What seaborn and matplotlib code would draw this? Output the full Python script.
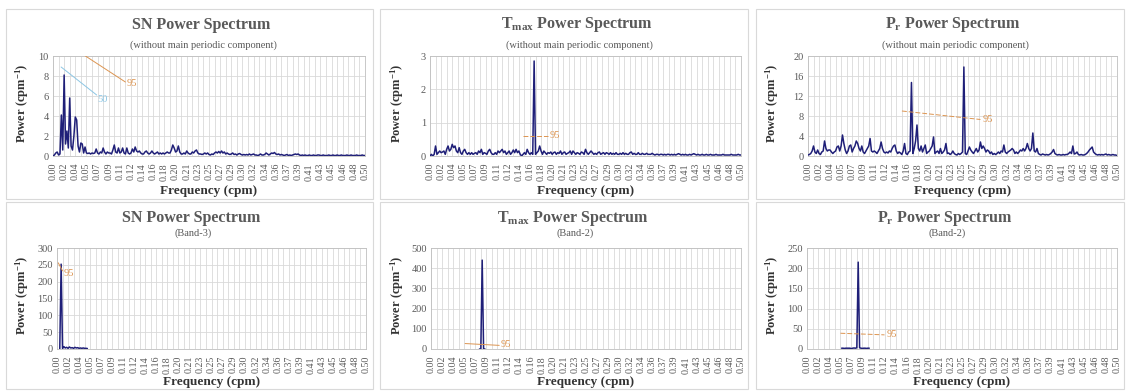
import numpy as np
import matplotlib
matplotlib.use("Agg")
import matplotlib.pyplot as plt
from matplotlib.patches import Rectangle
import seaborn as sns

# ---------------- data ----------------
FREQ_STEP = 1 / 448  # spacing of the frequency categories (cpm)

tick_labels = ["0.00", "0.02", "0.04", "0.05", "0.07", "0.09", "0.11", "0.12", "0.14",
               "0.16", "0.18", "0.20", "0.21", "0.23", "0.25", "0.27", "0.29", "0.30",
               "0.32", "0.34", "0.36", "0.37", "0.39", "0.41", "0.43", "0.45", "0.46",
               "0.48", "0.50"]

sn_top = [
    0, 0.1, 0.3, 0.4, 0.1, 0.2, 4.1, 0.6,
    8.1, 1.2, 2.5, 0.8, 5.8, 1.0, 0.6, 2.0,
    3.9, 3.6, 1.0, 0.4, 1.3, 1.2, 0.3, 0.9,
    0.3, 0.25, 0.3, 0.2, 0.3, 0.25, 0.3, 0.7,
    0.3, 0.2, 0.4, 0.3, 0.8, 0.4, 0.2, 0.4,
    0.3, 0.3, 0.2, 0.6, 1.1, 0.4, 0.3, 0.8,
    0.3, 0.4, 0.8, 0.3, 0.2, 0.8, 0.3, 0.2,
    0.3, 0.7, 0.4, 0.9, 0.5, 0.4, 0.5, 0.3,
    0.2, 0.2, 0.4, 0.5, 0.3, 0.2, 0.3, 0.5,
    0.3, 0.2, 0.3, 0.4, 0.2, 0.3, 0.2, 0.3,
    0.2, 0.3, 0.4, 0.3, 0.3, 0.6, 1.1, 0.8,
    0.4, 0.5, 1.0, 0.4, 0.2, 0.2, 0.3, 0.2,
    0.5, 0.3, 0.2, 0.2, 0.4, 0.3, 0.5, 0.6,
    0.3, 0.2, 0.2, 0.15, 0.2, 0.3, 0.2, 0.3,
    0.15, 0.1, 0.2, 0.15, 0.3, 0.4, 0.3, 0.45,
    0.3, 0.5, 0.3, 0.4, 0.2, 0.3, 0.2, 0.15,
    0.2, 0.3, 0.15, 0.2, 0.1, 0.2, 0.25, 0.15,
    0.1, 0.15, 0.1, 0.15, 0.1, 0.2, 0.1, 0.15,
    0.2, 0.1, 0.1, 0.05, 0.1, 0.2, 0.1, 0.1,
    0.15, 0.3, 0.2, 0.1, 0.2, 0.3, 0.25, 0.35,
    0.2, 0.15, 0.2, 0.1, 0.15, 0.1, 0.05, 0.1,
    0.15, 0.05, 0.1, 0.05, 0.1, 0.15, 0.2, 0.15,
    0.2, 0.1, 0.05, 0.1, 0.05, 0.1, 0.05, 0.05,
    0.1, 0.05, 0.05, 0.1, 0.05, 0.05, 0.1, 0.1,
    0.05, 0.05, 0.1, 0.05, 0.05, 0.05, 0.1, 0.05,
    0.05, 0.1, 0.05, 0.05, 0.1, 0.05, 0.05, 0.1,
    0.05, 0.05, 0.05, 0.1, 0.05, 0.05, 0.1, 0.05,
    0.05, 0.05, 0.1, 0.05, 0.05, 0.05, 0.1, 0.05,
    0.05]

tmax_top = [
    0.0, 0.05, 0.0, 0.05, 0.3, 0.05, 0.1, 0.15,
    0.1, 0.12, 0.15, 0.05, 0.2, 0.3, 0.15, 0.2,
    0.35, 0.25, 0.3, 0.15, 0.1, 0.25, 0.1, 0.05,
    0.15, 0.2, 0.1, 0.05, 0.1, 0.05, 0.1, 0.05,
    0.08, 0.1, 0.05, 0.15, 0.1, 0.2, 0.05, 0.1,
    0.08, 0.05, 0.15, 0.2, 0.1, 0.05, 0.05, 0.1,
    0.05, 0.15, 0.1, 0.15, 0.2, 0.1, 0.15, 0.05,
    0.1, 0.15, 0.05, 0.1, 0.18, 0.1, 0.2, 0.1,
    0.15, 0.05, 0.0, 0.05, 0.1, 0.05, 0.2, 0.1,
    0.05, 0.1, 0.05, 2.85, 0.05, 0.1, 0.15, 0.3,
    0.15, 0.05, 0.15, 0.1, 0.05, 0.1, 0.08, 0.12,
    0.05, 0.1, 0.12, 0.05, 0.1, 0.08, 0.15, 0.05,
    0.1, 0.12, 0.05, 0.08, 0.1, 0.15, 0.05, 0.15,
    0.1, 0.05, 0.1, 0.08, 0.05, 0.12, 0.1, 0.05,
    0.2, 0.1, 0.05, 0.1, 0.15, 0.1, 0.05, 0.08,
    0.05, 0.1, 0.12, 0.05, 0.08, 0.1, 0.05, 0.1,
    0.08, 0.05, 0.1, 0.05, 0.08, 0.05, 0.1, 0.05,
    0.05, 0.08, 0.05, 0.1, 0.05, 0.08, 0.05, 0.05,
    0.1, 0.12, 0.05, 0.08, 0.05, 0.05, 0.1, 0.05,
    0.05, 0.08, 0.05, 0.05, 0.08, 0.05, 0.05, 0.05,
    0.08, 0.05, 0.03, 0.05, 0.05, 0.03, 0.05, 0.05,
    0.03, 0.05, 0.03, 0.05, 0.05, 0.03, 0.05, 0.03,
    0.05, 0.03, 0.05, 0.07, 0.05, 0.03, 0.05, 0.03,
    0.05, 0.03, 0.03, 0.05, 0.03, 0.05, 0.07, 0.05,
    0.03, 0.05, 0.03, 0.03, 0.05, 0.03, 0.03, 0.05,
    0.03, 0.03, 0.05, 0.03, 0.03, 0.03, 0.05, 0.03,
    0.03, 0.03, 0.03, 0.05, 0.03, 0.03, 0.03, 0.03,
    0.03, 0.05, 0.03, 0.03, 0.03, 0.03, 0.05, 0.03,
    0.03]

pr_top = [
    0.2, 0.3, 0.5, 1.0, 2.0, 0.8, 0.5, 1.2,
    0.5, 0.3, 0.8, 1.0, 3.0, 1.5, 1.0, 1.2,
    1.2, 0.8, 0.5, 0.8, 1.0, 1.8, 2.0, 1.0,
    2.0, 4.2, 2.5, 1.2, 0.5, 1.0, 2.0, 2.2,
    0.8, 1.5, 2.0, 3.0, 2.5, 1.5, 1.0, 2.0,
    0.8, 0.5, 1.0, 1.5, 2.0, 3.5, 1.0, 0.8,
    1.0, 0.8, 0.5, 1.0, 1.5, 2.8, 1.5, 0.8,
    0.6, 0.8, 0.6, 1.0, 0.8, 1.5, 2.0, 2.2,
    1.0, 0.5, 0.8, 0.6, 0.3, 1.0, 2.5, 0.5,
    0.3, 0.8, 1.0, 14.7, 0.5, 1.5, 3.0, 6.2,
    1.5, 1.0, 2.0, 0.8, 1.5, 2.2, 0.5, 0.8,
    1.0, 1.5, 2.0, 3.8, 0.5, 0.8, 1.0, 0.5,
    1.5, 0.5, 0.8, 1.2, 2.5, 0.5, 0.6, 0.3,
    0.5, 1.0, 0.5, 0.3, 0.2, 0.5, 0.3, 0.5,
    0.8, 17.8, 0.5, 0.3, 1.0, 1.8, 1.2, 0.8,
    0.5, 1.0, 1.5, 0.8, 1.2, 2.8, 1.5, 2.0,
    1.5, 0.8, 1.2, 1.0, 0.5, 0.8, 0.3, 0.5,
    0.3, 0.5, 0.8, 0.5, 1.0, 0.8, 2.2, 0.8,
    0.5, 0.8, 1.0, 1.2, 1.5, 1.2, 0.5, 0.8,
    0.5, 0.8, 1.2, 1.0, 1.5, 1.0, 1.5, 2.5,
    1.5, 1.0, 1.5, 4.6, 1.0, 0.8, 1.5, 0.5,
    0.3, 0.2, 0.4, 0.3, 0.2, 0.3, 0.2, 0.3,
    0.5, 0.8, 1.3, 0.5, 0.3, 0.2, 0.3, 0.2,
    0.2, 0.3, 0.2, 0.3, 0.3, 0.5, 0.8, 0.5,
    2.0, 0.4, 0.5, 0.8, 0.3, 0.2, 0.3, 0.2,
    0.2, 0.3, 0.5, 0.8, 1.2, 1.5, 1.8, 0.8,
    0.5, 0.3, 0.2, 0.3, 0.2, 0.3, 0.2, 0.3,
    0.4, 0.2, 0.3, 0.2, 0.2, 0.3, 0.2, 0.2,
    0.1]

# band series: first frequency index and values
sn_band3_start = 2
sn_band3 = [0, 252, 2, 7, 3, 5, 2, 6, 3, 4, 2, 5, 3, 4, 2, 3, 2, 3, 2, 2, 1.5]

tmax_band2_start = 35
tmax_band2 = [0, 0, 440, 0, 0]

pr_band2_start = 25
pr_band2 = [2, 2, 1.5, 2, 2, 2, 2, 1, 2, 2.5, 2, 3, 215, 3, 2, 1.5, 2, 2, 1.5, 2, 2]

# confidence-level label lines: (freqs, powers, label, label freq, label power)
ref_sn_top = [([0.052, 0.116], [10.0, 7.4], "95", 0.118, 7.2),
              ([0.013, 0.070], [8.9, 6.1], "50", 0.071, 5.7)]
ref_tmax_top = [([0.150, 0.190], [0.60, 0.60], "95", 0.192, 0.62)]
ref_pr_top = [([0.152, 0.279], [9.0, 7.3], "95", 0.282, 7.3)]
ref_sn_band = [([0.002, 0.009], [256, 232], "95", 0.010, 225)]
ref_tmax_band = [([0.055, 0.110], [27, 18], "95", 0.112, 22)]
ref_pr_band = [([0.054, 0.125], [39, 35], "95", 0.128, 36)]

# ---------------- style ----------------
sns.set_theme(style="white")
plt.rcParams["font.family"] = ["Liberation Serif", "DejaVu Serif"]
plt.rcParams["mathtext.fontset"] = "custom"
plt.rcParams["mathtext.rm"] = "Liberation Serif:bold"
plt.rcParams["mathtext.it"] = "Liberation Serif:bold"
plt.rcParams["mathtext.bf"] = "Liberation Serif:bold"

NAVY = "#1f1f78"
ORANGE = "#dc9450"
LBLUE = "#8cc6e4"
GRID = "#d9d9d9"
TITLE_C = "#595959"
TICK_C = "#595959"
LABEL_C = "#333333"

W, H = 1127, 391
fig = plt.figure(figsize=(W / 100, H / 100), dpi=100)
fig.patch.set_facecolor("white")

# panel borders
for (x0, y0, w, h) in [(6, 9, 367, 190), (380, 9, 368, 190), (756, 9, 368, 190),
                       (6, 202, 367, 187), (380, 202, 368, 187), (756, 202, 368, 187)]:
    fig.add_artist(Rectangle((x0 / W, 1 - (y0 + h) / H), w / W, h / H,
                             transform=fig.transFigure, fill=False,
                             edgecolor="#d9d9d9", lw=0.8))


def make_ax(left, top, right, bottom):
    return fig.add_axes([left / W, 1 - bottom / H, (right - left) / W, (bottom - top) / H])


panels = [
    dict(box=(53, 56, 365, 156), off=0, row=0, title="SN Power Spectrum",
         sub="(without main periodic component)", start=0, vals=sn_top,
         yt=[0, 2, 4, 6, 8, 10], refs=ref_sn_top, tx=201),
    dict(box=(430, 56, 741, 156), off=375, row=0, title="$\\mathbf{T_{max}}$ Power Spectrum",
         sub="(without main periodic component)", start=0, vals=tmax_top,
         yt=[0, 1, 2, 3], refs=ref_tmax_top, tx=577),
    dict(box=(808, 56, 1117, 156), off=750, row=0, title="$\\mathbf{P_{r}}$ Power Spectrum",
         sub="(without main periodic component)", start=0, vals=pr_top,
         yt=[0, 4, 8, 12, 16, 20], refs=ref_pr_top, tx=953),
    dict(box=(57, 248, 366, 349), off=0, row=1, title="SN Power Spectrum",
         sub="(Band-3)", start=sn_band3_start, vals=sn_band3,
         yt=[0, 50, 100, 150, 200, 250, 300], refs=ref_sn_band, tx=191),
    dict(box=(431, 248, 741, 349), off=375, row=1, title="$\\mathbf{T_{max}}$ Power Spectrum",
         sub="(Band-2)", start=tmax_band2_start, vals=tmax_band2,
         yt=[0, 100, 200, 300, 400, 500], refs=ref_tmax_band, tx=573),
    dict(box=(807, 248, 1117, 349), off=750, row=1, title="$\\mathbf{P_{r}}$ Power Spectrum",
         sub="(Band-2)", start=pr_band2_start, vals=pr_band2,
         yt=[0, 50, 100, 150, 200, 250], refs=ref_pr_band, tx=945),
]

label_pos = np.arange(len(tick_labels)) / 56
grid_pos = np.arange(57) / 112

for p in panels:
    l, t, r, b = p["box"]
    ax = make_ax(l, t, r, b)
    idx = np.arange(p["start"], p["start"] + len(p["vals"]))
    freq = idx * FREQ_STEP
    sns.lineplot(x=freq, y=p["vals"], ax=ax, color=NAVY, linewidth=1.1, zorder=3)

    for (fx, fy, lab, lx, ly) in p["refs"]:
        col = LBLUE if lab == "50" else ORANGE
        ls = "-" if p["off"] == 0 or (p["row"] == 1 and p["off"] == 375) else (0, (5, 2))
        ax.plot(fx, fy, color=col, lw=0.7, ls=ls, zorder=4)
        ax.text(lx, ly, lab, color=col, fontsize=7.5, va="center", ha="left", zorder=5)

    ax.set_xlim(0, 0.5)
    ax.set_ylim(p["yt"][0], p["yt"][-1])
    ax.set_yticks(p["yt"])
    ax.set_yticklabels([str(v) for v in p["yt"]], fontsize=7.5, color=TICK_C)
    ax.set_xticks(label_pos)
    ax.set_xticklabels(tick_labels, rotation=90, fontsize=7.2, color=TICK_C)
    ax.set_xticks(grid_pos, minor=True)
    ax.tick_params(axis="x", which="major", length=3, color="#bfbfbf", width=0.6, pad=2)
    ax.tick_params(axis="x", which="minor", length=0)
    ax.tick_params(axis="y", length=0, pad=3)
    ax.grid(True, which="both", axis="x", color=GRID, lw=0.6)
    ax.grid(True, which="major", axis="y", color=GRID, lw=0.6)
    ax.set_axisbelow(True)
    for s in ax.spines.values():
        s.set_color("#bfbfbf")
        s.set_linewidth(0.6)
    ax.set_xlabel("")
    ax.set_ylabel("")

    # texts
    if p["row"] == 0:
        ty, sy, xy = 25, 45, 191
    else:
        ty, sy, xy = 218, 233, 382
    fig.text(p["tx"] / W, 1 - ty / H, p["title"], ha="center", va="center",
             fontsize=11.5, fontweight="bold", color=TITLE_C)
    fig.text((p["tx"] + 2) / W, 1 - sy / H, p["sub"], ha="center", va="center",
             fontsize=7.5, color=TITLE_C)
    fig.text((l + r) / 2 / W, 1 - xy / H, "Frequency (cpm)", ha="center", va="center",
             fontsize=9.5, fontweight="bold", color=LABEL_C)
    fig.text((p["off"] + 22) / W, 1 - ((t + b) / 2 - 3) / H, "Power (cpm$^{-1}$)",
             ha="center", va="center", rotation=90, fontsize=9,
             fontweight="bold", color=LABEL_C)

fig.savefig("out.png", dpi=100, facecolor="white")
